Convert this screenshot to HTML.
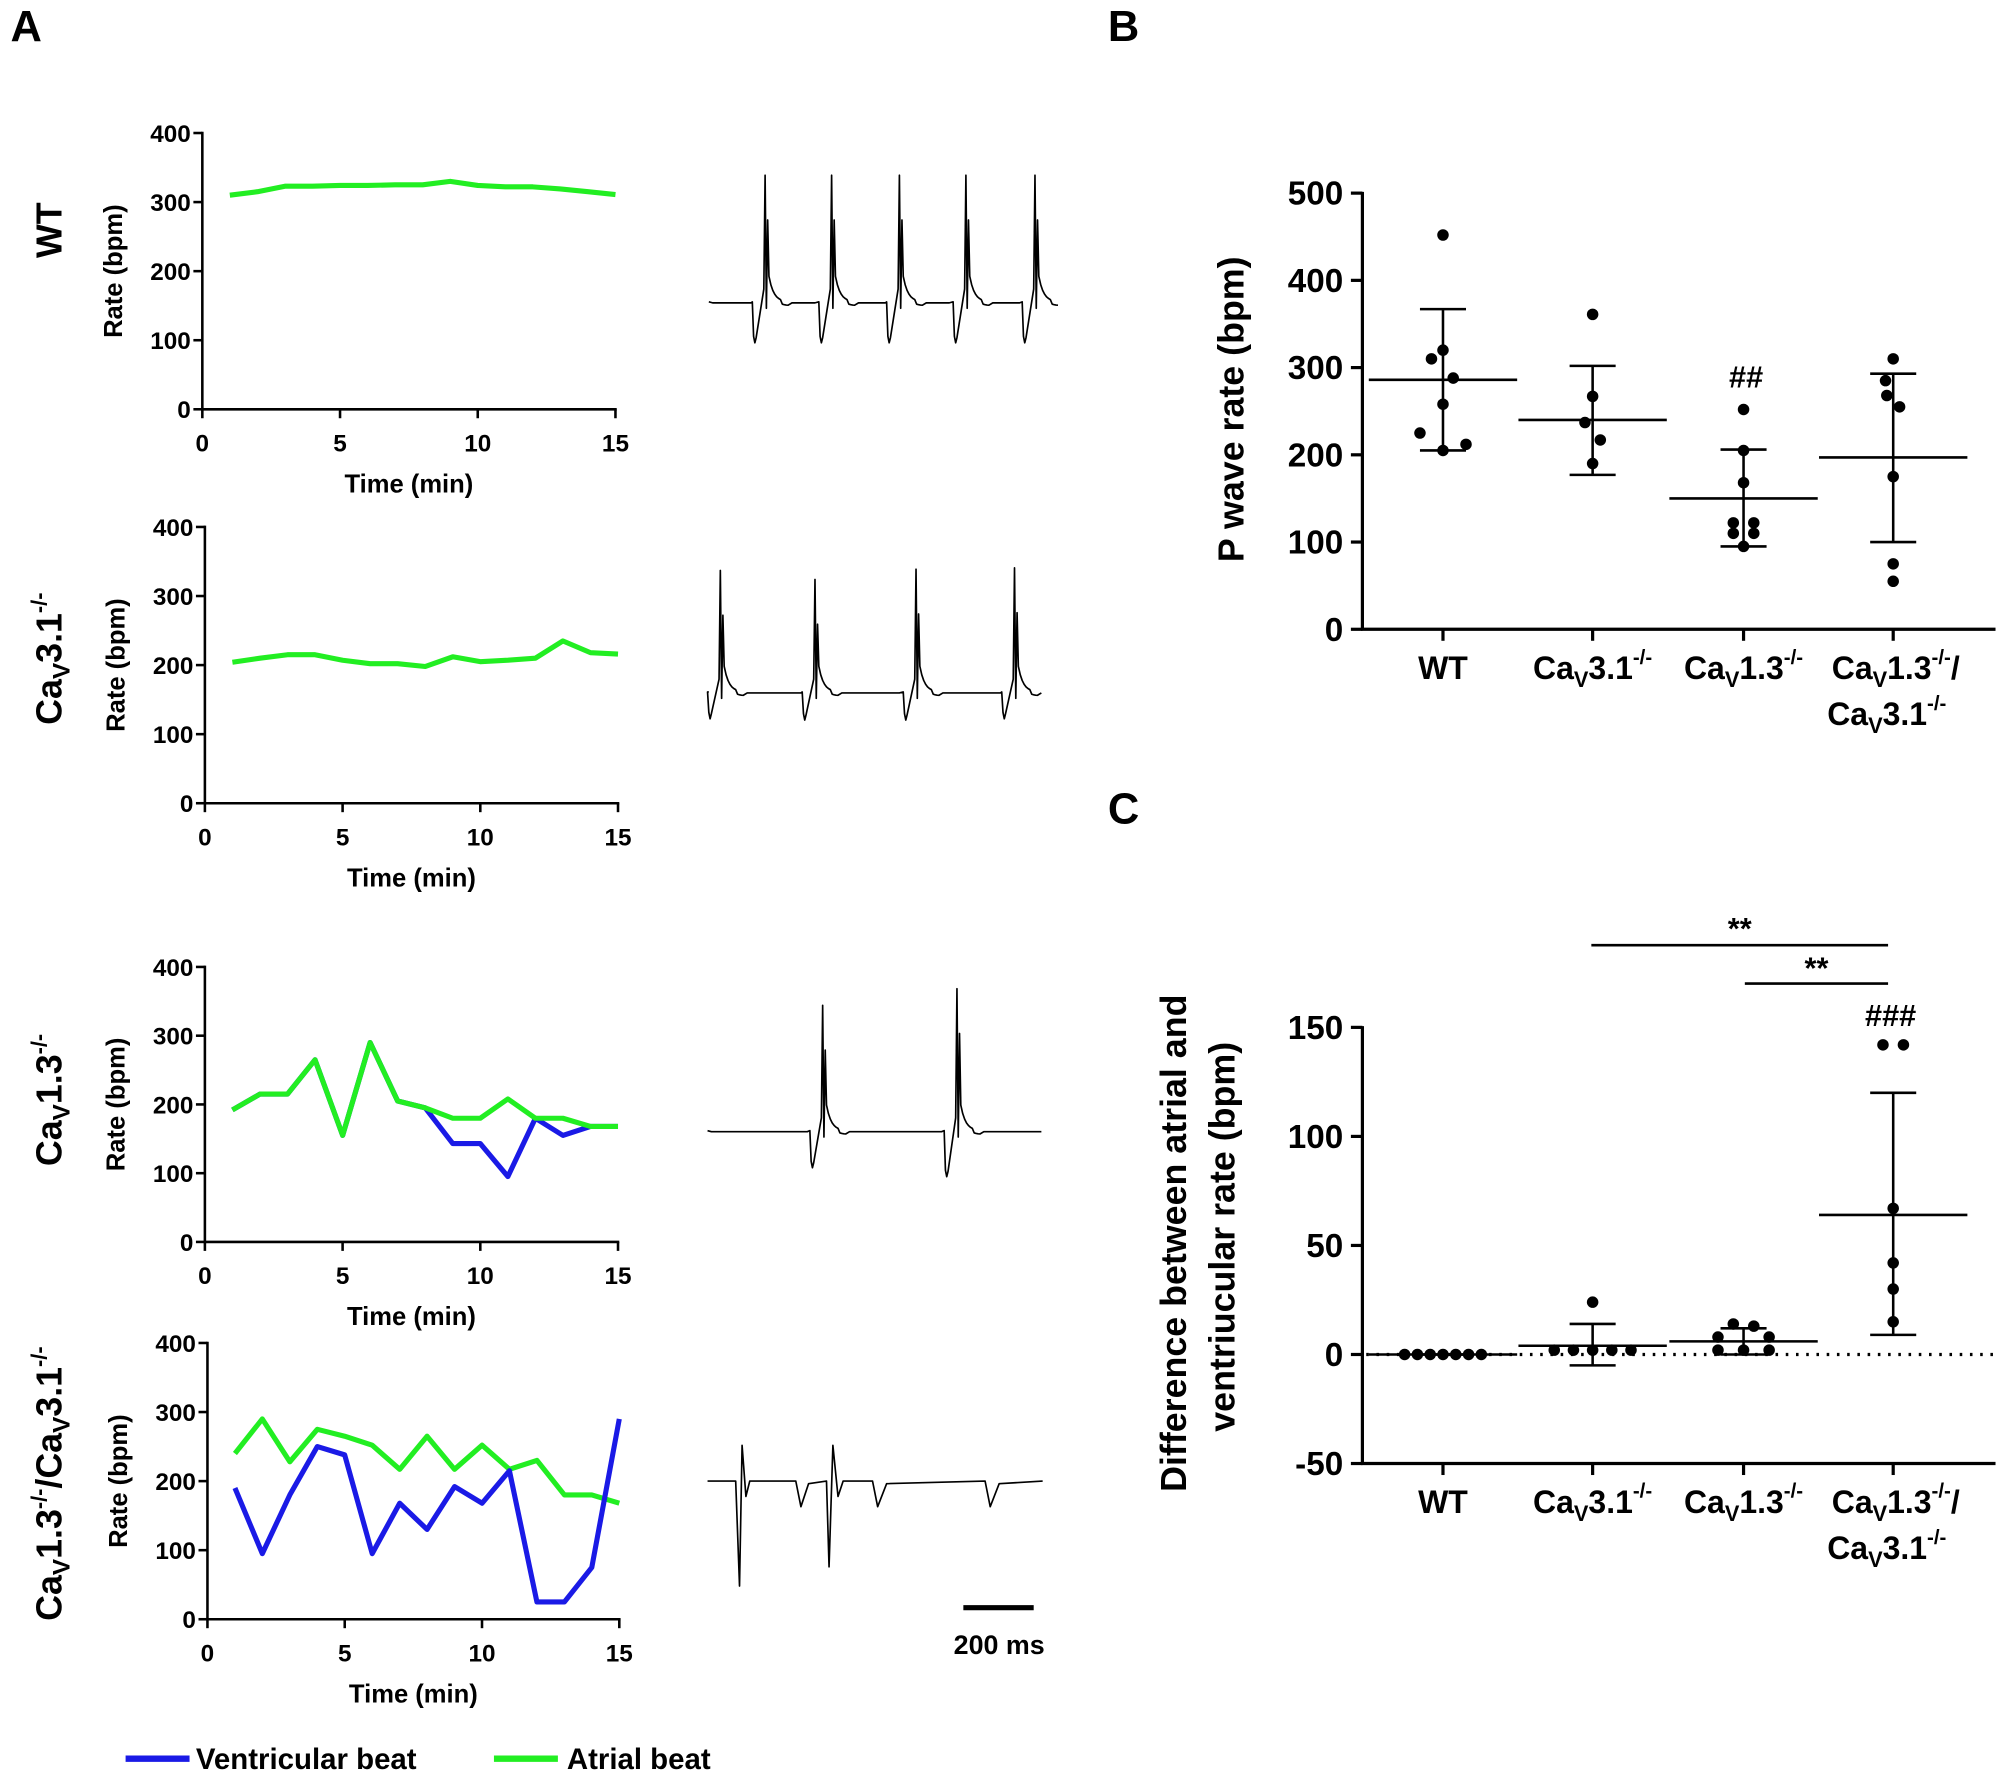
<!DOCTYPE html>
<html><head><meta charset="utf-8"><style>
html,body{margin:0;padding:0;background:#fff}
svg{display:block}
text{font-family:"Liberation Sans",Arial,sans-serif;font-weight:bold;fill:#000}
</style></head><body>
<svg id="s" width="2006" height="1774" viewBox="0 0 1568 1387" xmlns="http://www.w3.org/2000/svg">
<text x="8" y="32" font-size="34">A</text>
<text x="866" y="32" font-size="34">B</text>
<text x="866" y="644" font-size="34">C</text>
<g id="g"></g>
</svg>
<script>
const g=document.getElementById('g');let h='';
function L(x1,y1,x2,y2,w,c,extra){h+=`<line x1="${x1}" y1="${y1}" x2="${x2}" y2="${y2}" stroke="${c||'#000'}" stroke-width="${w||2}" ${extra||''}/>`;}
function T(x,y,s,fs,anc,extra){h+=`<text x="${x}" y="${y}" font-size="${fs}" text-anchor="${anc||'middle'}" ${extra||''}>${s}</text>`;}
function P(d,c,w){h+=`<path d="${d}" fill="none" stroke="${c}" stroke-width="${w}" stroke-linejoin="round"/>`;}
function plotA(x0,x15,y400,y0,series){
  const sy=(y0-y400)/400, sx=(x15-x0)/15;
  L(x0,y400-1,x0,y0+1,2); L(x0-1,y0,x15+1,y0,2);
  [0,100,200,300,400].forEach(v=>{const y=y0-v*sy;L(x0-7,y,x0,y,2);T(x0-9,y+7,v,19,'end');});
  [0,5,10,15].forEach(v=>{const x=x0+v*sx;L(x,y0,x,y0+7,2);T(x,y0+33,v,19);});
  T((x0+x15)/2,y0+65,'Time (min)',20);
  T(0,0,'Rate (bpm)',20,'middle',`transform="translate(${x0-63},${(y400+y0)/2}) rotate(-90)"`);
  series.forEach(s=>{P(s.d.map((v,i)=>(i?'L':'M')+(x0+(i+1)*sx).toFixed(1)+','+(y0-v*sy).toFixed(1)).join(''),s.c,4);});
}
const G='#22ee22',B='#1a1ae6';
plotA(158,481,104,320,[{c:G,d:[310,315,323,323,324,324,325,325,330,324,322,322,319,315,311]}]);
plotA(160,483,412,628,[{c:G,d:[204,210,215,215,207,202,202,198,212,205,207,210,235,218,216]}]);
plotA(160,483,756,971,[{c:B,d:[192,215,215,265,155,290,205,195,143,143,95,180,155,168,168]},{c:G,d:[192,215,215,265,155,290,205,195,180,180,208,180,180,168,168]}]);
plotA(162,484,1050,1266,[{c:G,d:[240,290,228,275,265,252,217,265,217,252,217,230,180,180,168]},{c:B,d:[190,95,180,250,238,95,168,130,192,168,215,25,25,75,290]}]);
T(0,0,'WT',28,'middle','transform="translate(48,180) rotate(-90)"');
T(0,0,'Ca<tspan font-size="19" dy="6">V</tspan><tspan dy="-6">3.1</tspan><tspan font-size="17" dy="-12">-/-</tspan>',28,'middle','transform="translate(48,515) rotate(-90)"');
T(0,0,'Ca<tspan font-size="19" dy="6">V</tspan><tspan dy="-6">1.3</tspan><tspan font-size="17" dy="-12">-/-</tspan>',28,'middle','transform="translate(48,860) rotate(-90)"');
T(0,0,'Ca<tspan font-size="19" dy="6">V</tspan><tspan dy="-6">1.3</tspan><tspan font-size="17" dy="-12">-/-</tspan><tspan dy="12">/Ca</tspan><tspan font-size="19" dy="6">V</tspan><tspan dy="-6">3.1</tspan><tspan font-size="17" dy="-12">-/-</tspan>',28,'middle','transform="translate(48,1160) rotate(-90)"');
function ecg(x0,x1,base,beats){
  let d=`M${x0},${base}`;let cx=x0;
  beats.forEach(b=>{
    for(let x=cx+3;x<b.x-10;x+=3)d+=`L${x},${base+((x/3)%2?0.8:-0.8)}`;
    d+=`L${b.x-10},${base}L${b.x-9},${b.dip-5}L${b.x-8},${b.dip}L${b.x-7},${b.dip-4}L${b.x-1},${base-10}L${b.x},${b.top}L${b.x+1},${base+5}L${b.x+2},${b.top+35}L${b.x+3},${base-20}`;
    for(let k=1;k<=10;k++){const x=b.x+3+k*1.5;d+=`L${x.toFixed(1)},${(base-20*Math.exp(-k/2.5)+ (k>6?3:0)).toFixed(1)}`;}
    cx=b.x+18;
  });
  for(let x=cx+3;x<=x1;x+=3)d+=`L${x},${base+((x/3)%2?0.8:-0.8)}`;
  P(d,'#000',1.3);
}
ecg(554,814,236,[598,650,703,755,809].map(x=>({x,top:137,dip:268})));
ecg(554,814,541,[{x:563,top:446,dip:562},{x:637,top:453,dip:563},{x:716,top:445,dip:563},{x:793,top:444,dip:562}]);
ecg(553,815,884,[{x:643,top:786,dip:913},{x:748,top:773,dip:920}]);
(function(){let d='M553,1158L575,1158L578,1240L580,1130L583,1170L586,1158L622,1158L626,1178L632,1160L646,1158L648,1225L651,1130L655,1170L659,1158L682,1158L686,1178L693,1160L770,1158L774,1178L781,1160L815,1158';P(d,'#000',1.3);})();
L(753,1257,808,1257,4);T(781,1293,'200 ms',21);
L(98,1375,148,1375,5,B);T(153,1383,'Ventricular  beat',23,'start');
L(386,1375,436,1375,5,G);T(443,1383,'Atrial beat',23,'start');
const cats=[1128,1245,1363,1480];
function dotPanel(y0,sy,vals,ticks,stats){
  const Y=v=>y0-v*sy;
  L(1065,Y(ticks[ticks.length-1])-1,1065,Y(ticks[0])+1,2.5);
  const xb=Y(ticks[0]);L(1064,xb,1560,xb,2.5);
  ticks.forEach(v=>{L(1056,Y(v),1065,Y(v),2.5);T(1050,Y(v)+9,v,26,'end');});
  cats.forEach(x=>L(x,xb,x,xb+9,2.5));
  vals.forEach((vs,i)=>vs.forEach(p=>{h+=`<circle cx="${cats[i]+p[1]}" cy="${Y(p[0])}" r="4.5" fill="#000"/>`;}));
  stats.forEach((s,i)=>{const x=cats[i];L(x-58,Y(s[0]),x+58,Y(s[0]),2);L(x-18,Y(s[1]),x+18,Y(s[1]),2);L(x-18,Y(s[2]),x+18,Y(s[2]),2);L(x,Y(s[1]),x,Y(s[2]),2);});
  return Y;
}
function catLabels(y){
  T(1128,y,'WT',25);
  T(1245,y,'Ca<tspan font-size="17" dy="6">V</tspan><tspan dy="-6">3.1</tspan><tspan font-size="16" dy="-12">-/-</tspan>',25);
  T(1363,y,'Ca<tspan font-size="17" dy="6">V</tspan><tspan dy="-6">1.3</tspan><tspan font-size="16" dy="-12">-/-</tspan>',25);
  T(1482,y,'Ca<tspan font-size="17" dy="6">V</tspan><tspan dy="-6">1.3</tspan><tspan font-size="16" dy="-12">-/-</tspan><tspan dy="12">/</tspan>',25);
  T(1475,y+36,'Ca<tspan font-size="17" dy="6">V</tspan><tspan dy="-6">3.1</tspan><tspan font-size="16" dy="-12">-/-</tspan>',25);
}
dotPanel(492,0.682,[
 [[452,0],[320,0],[310,-9],[288,8],[258,0],[225,-18],[205,0],[212,18]],
 [[361,0],[267,0],[237,-6],[217,6],[190,0]],
 [[252,0],[205,0],[168,0],[122,-8],[110,-8],[110,8],[95,0],[122,8]],
 [[310,0],[285,-6],[268,-5],[255,5],[175,0],[75,0],[55,0]]],
 [0,100,200,300,400,500],[[286,367,205],[240,302,177],[150,206,95],[197,293,100]]);
T(0,0,'P wave rate (bpm)',28,'middle','transform="translate(972,320) rotate(-90)"');
T(1365,303,'##',24);
catLabels(531);
dotPanel(1059,1.705,[
 [[0,-30],[0,-20],[0,-10],[0,0],[0,10],[0,20],[0,30]],
 [[24,0],[2,-30],[2,-15],[2,0],[2,15],[2,30]],
 [[14,-8],[13,8],[8,-20],[8,20],[2,-20],[2,0],[2,20]],
 [[142,-8],[142,8],[67,0],[42,0],[30,0],[15,0]]],
 [-50,0,50,100,150],[[0,0,0],[4,14,-5],[6,12,0],[64,120,9]]);
h+=`<line x1="1068" y1="1059" x2="1560" y2="1059" stroke="#000" stroke-width="2.5" stroke-dasharray="2,6"/>`;
L(1244,739,1476,739,2);T(1360,734,'**',24);
L(1364,769,1476,769,2);T(1420,765,'**',24);
T(1478,802,'###',24);
T(0,0,'Difference between atrial and',28,'middle','transform="translate(927,972) rotate(-90)"');
T(0,0,'ventriucular rate (bpm)',28,'middle','transform="translate(965,967) rotate(-90)"');
catLabels(1183);
g.innerHTML=h;
</script>
</body></html>
